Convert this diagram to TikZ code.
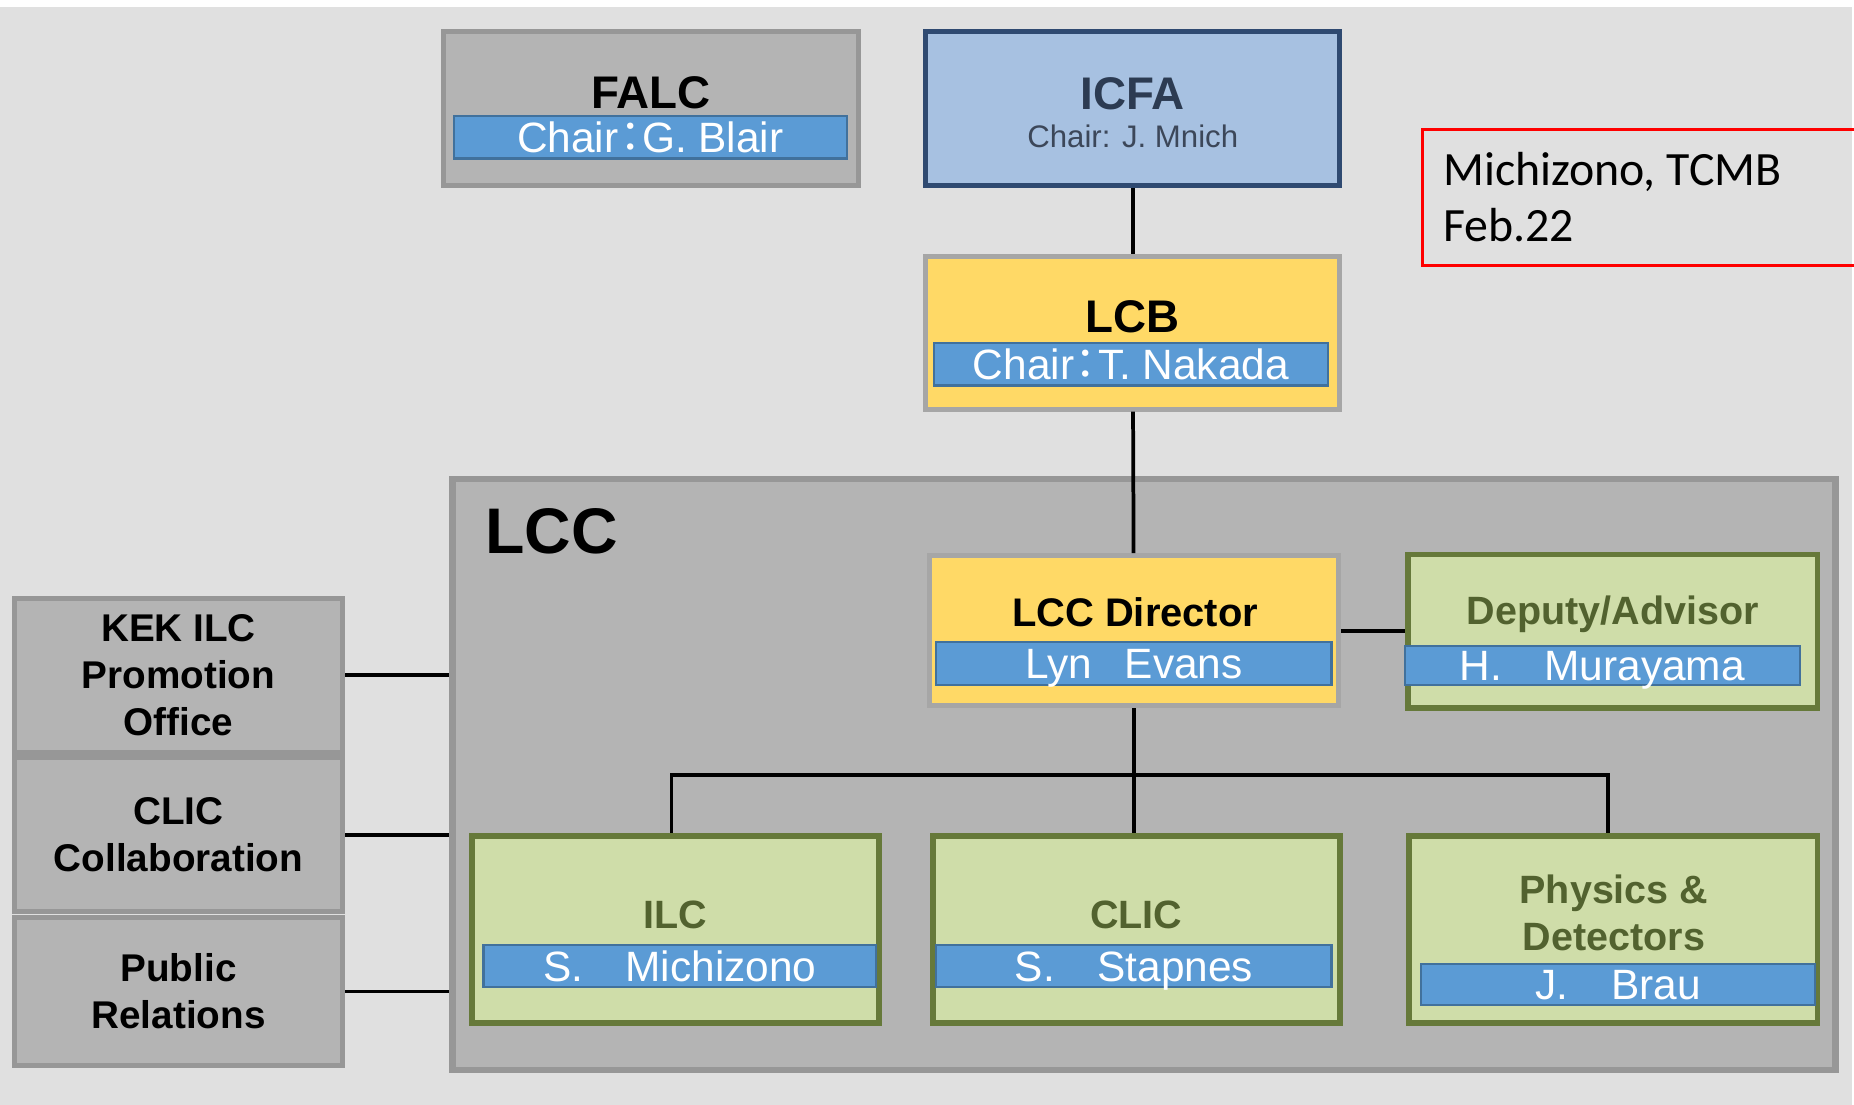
\documentclass[tikz,border=0pt]{standalone}
\usepackage{fontspec}
\setmainfont{Liberation Sans}
\newfontfamily\cjk{Noto Sans CJK JP}
\newfontfamily\notefont{Carlito}

\definecolor{bggray}{HTML}{E0E0E0}
\definecolor{boxgray}{HTML}{B4B4B4}
\definecolor{edgegray}{HTML}{979797}
\definecolor{icfablue}{HTML}{A7C1E1}
\definecolor{icfaedge}{HTML}{2F4A71}
\definecolor{icfatext}{HTML}{2C3B52}
\definecolor{icfasub}{HTML}{3C4759}
\definecolor{lcbyellow}{HTML}{FFD966}
\definecolor{lcbedge}{HTML}{A6A6A6}
\definecolor{lccgreen}{HTML}{CFDDA9}
\definecolor{greenedge}{HTML}{66793A}
\definecolor{greentext}{HTML}{52622F}
\definecolor{barblue}{HTML}{5B9BD5}
\definecolor{baredge}{HTML}{41719C}

\tikzset{
  graybox/.style={draw=edgegray, fill=boxgray, line width=1.2pt, inner sep=0pt},
  icfabox/.style={draw=icfaedge, fill=icfablue, line width=1.2pt, inner sep=0pt},
  yellowbox/.style={draw=lcbedge, fill=lcbyellow, line width=1.2pt, inner sep=0pt},
  greenbox/.style={draw=greenedge, fill=lccgreen, line width=1.4pt, inner sep=0pt},
  namebar/.style={draw=baredge, fill=barblue, line width=0.5pt, text=white, inner sep=0pt,
    minimum height=0.36cm, text height=7.3pt, text depth=0pt,
    font=\fontsize{10.2}{12}\selectfont},
  title/.style={anchor=base, inner sep=0pt, font=\bfseries\fontsize{11}{13}\selectfont},
  subtitle/.style={anchor=base, inner sep=0pt, text=greentext, font=\bfseries\fontsize{9.5}{11}\selectfont},
  sidetext/.style={align=center, font=\bfseries\fontsize{9.3}{11.3}\selectfont},
  notetext/.style={anchor=base west, inner sep=0pt, font=\notefont\fontsize{11.5}{14}\selectfont},
  link/.style={black, line width=0.9pt},
}

\begin{document}
\begin{tikzpicture}[x=0.01cm, y=-0.01cm]
  \useasboundingbox (0,0) rectangle (1568,933.7);
  \fill[white, overlay] (-10,-10) rectangle (1580,950);
  \fill[bggray, overlay] (-10,6) rectangle (1566,950);

  % FALC and ICFA
  \node[graybox, minimum width=3.51cm, minimum height=1.30cm] (falc) at (550.5,92) {};
  \node[title] (falct) at (550.5,92) {FALC};
  \node[namebar, minimum width=3.32cm] (falcn) at (550,116) {Chair\kern-0.22em{\cjk ：}\kern-0.22em G. Blair};

  \node[icfabox, minimum width=3.50cm, minimum height=1.30cm] (icfa) at (958,92) {};
  \node[title, text=icfatext] (icfat) at (958,93) {ICFA};
  \node[anchor=base, inner sep=0pt, text=icfasub, font=\fontsize{7.5}{9}\selectfont] (icfan) at (958,125) {Chair: J. Mnich};

  % LCB
  \node[yellowbox, minimum width=3.50cm, minimum height=1.29cm] (lcb) at (958,281.5) {};
  \node[title] (lcbt) at (958,281) {LCB};
  \node[namebar, minimum width=3.33cm] (lcbn) at (956.5,308) {Chair\kern-0.22em{\cjk ：}\kern-0.22em T. Nakada};

  % LCC frame
  \node[graybox, line width=1.5pt, minimum width=11.69cm, minimum height=5.00cm] (lcc) at (967.5,655) {};
  \node[anchor=base west, inner sep=0pt, font=\bfseries\fontsize{15.5}{18}\selectfont] (lcct) at (410,468) {LCC};

  % director and deputy
  \node[yellowbox, minimum width=3.46cm, minimum height=1.27cm] (dir) at (959,533.5) {};
  \node[title, font=\bfseries\fontsize{9.6}{11}\selectfont] (dirt) at (960,530) {LCC Director};
  \node[namebar, minimum width=3.34cm] (dirn) at (959,561) {Lyn~\enspace Evans};

  \node[greenbox, minimum width=3.46cm, minimum height=1.30cm] (dep) at (1364,534) {};
  \node[subtitle] (dept) at (1364,528) {Deputy/Advisor};
  \node[namebar, minimum width=3.34cm, minimum height=0.33cm] (depn) at (1355,562.5) {H.\quad Murayama};

  % projects
  \node[greenbox, minimum width=3.44cm, minimum height=1.58cm] (ilc) at (571,786) {};
  \node[subtitle] (ilct) at (571,785) {ILC};
  \node[namebar, minimum width=3.32cm] (ilcn) at (575,817) {S.\quad Michizono};

  \node[greenbox, minimum width=3.44cm, minimum height=1.58cm] (clic) at (961,786) {};
  \node[subtitle] (clict) at (961,785) {CLIC};
  \node[namebar, minimum width=3.34cm] (clicn) at (959,817) {S.\quad Stapnes};

  \node[greenbox, minimum width=3.45cm, minimum height=1.58cm] (phys) at (1364.5,786) {};
  \node[subtitle] (physa) at (1365,764) {Physics \&};
  \node[subtitle] (physb) at (1365,804) {Detectors};
  \node[namebar, minimum width=3.33cm, minimum height=0.35cm] (physn) at (1368.5,832.5) {J.\quad Brau};

  % side boxes
  \node[graybox, sidetext, minimum width=2.78cm, minimum height=1.30cm] (kek) at (151,571) {KEK ILC\\Promotion\\Office};
  \node[graybox, sidetext, minimum width=2.78cm, minimum height=1.30cm] (collab) at (151,706) {CLIC\\Collaboration};
  \node[graybox, sidetext, minimum width=2.78cm, minimum height=1.25cm] (pr) at (151,838.5) {Public\\Relations};

  % note (runs off the right edge)
  \node[overlay, draw=red, line width=0.7pt, inner sep=0pt, anchor=north west, minimum width=3.80cm, minimum height=1.15cm] (note) at (1202,108) {};
  \node[notetext] (notea) at (1220,157) {Michizono, TCMB};
  \node[notetext] (noteb) at (1220,204) {Feb.22};

  % links
  \draw[link] (icfa) -- (lcb);
  \draw[link] (lcb) -- (dir);
  \draw[link] (dir.east) -- (dir.east -| dep.west);
  \draw[link] (dir.south) -- ++(0,56) coordinate (fork);
  \draw[link] ([xshift=-0.03cm]ilc.north) |- (fork) -| ([xshift=-0.045cm]phys.north);
  \draw[link] (fork) -- (fork |- clic.north);
  \draw[link] (kek.east) -- (kek.east -| lcc.west);
  \draw[link] (collab.east) -- (collab.east -| lcc.west);
  \draw[link] (pr.east) -- (pr.east -| lcc.west);
\end{tikzpicture}
\end{document}
